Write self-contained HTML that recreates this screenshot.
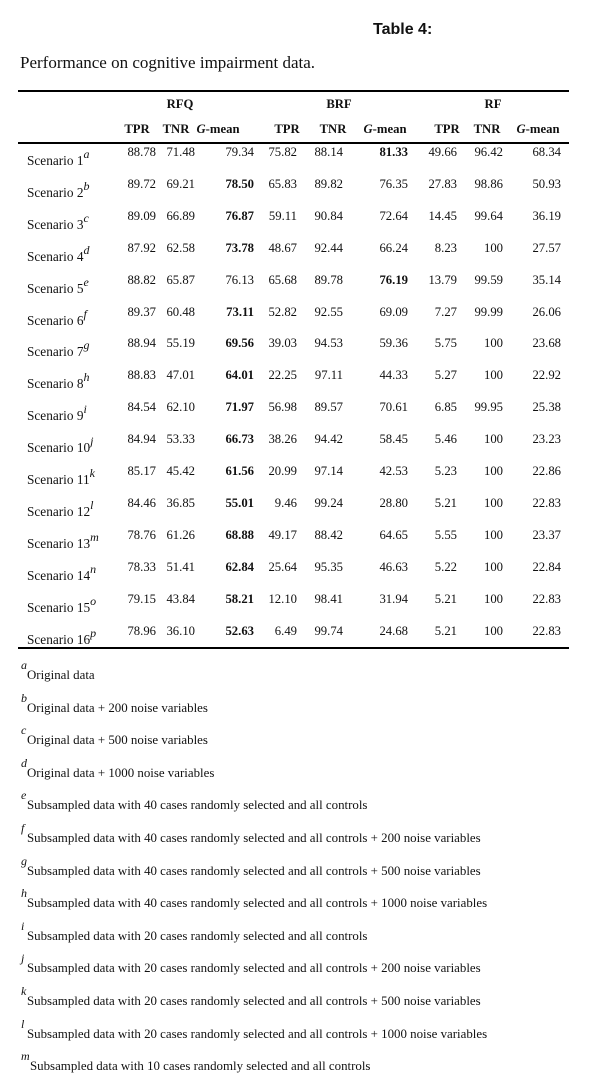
<!DOCTYPE html>
<html><head><meta charset="utf-8"><style>
body{margin:0;width:593px;height:1087px;background:#fff;position:relative;overflow:hidden;font-family:"Liberation Serif",serif;color:#111}
.a{position:absolute;white-space:nowrap;line-height:13px}
.n{font-size:12.7px;text-align:right;width:60px}
.h{font-size:12.7px;font-weight:bold;text-align:center;width:60px}
.line{position:absolute;left:18px;width:551px;background:#000}
.lab{font-size:13.3px}
.sup{font-style:italic;font-size:12px}
.fn{font-size:12.9px}
</style></head><body>
<div class="a" style="left:373px;top:21px;font:bold 16px 'Liberation Sans',sans-serif;line-height:18px">Table 4:</div>
<div class="a" style="left:20px;top:53px;font-size:17px;line-height:20px">Performance on cognitive impairment data.</div>
<div class="line" style="top:90px;height:2px"></div>
<div class="line" style="top:142px;height:2px"></div>
<div class="line" style="top:647px;height:2px"></div>
<div id="t"></div>
<script>
const groups=["RFQ","BRF","RF"];
const subs=["TPR","TNR","G-mean"];
const sups="abcdefghijklmnop".split("");
const tpr1=["88.78","89.72","89.09","87.92","88.82","89.37","88.94","88.83","84.54","84.94","85.17","84.46","78.76","78.33","79.15","78.96"];
const tnr1=["71.48","69.21","66.89","62.58","65.87","60.48","55.19","47.01","62.10","53.33","45.42","36.85","61.26","51.41","43.84","36.10"];
const gm1=["79.34","78.50","76.87","73.78","76.13","73.11","69.56","64.01","71.97","66.73","61.56","55.01","68.88","62.84","58.21","52.63"];
const tpr2=["75.82","65.83","59.11","48.67","65.68","52.82","39.03","22.25","56.98","38.26","20.99","9.46","49.17","25.64","12.10","6.49"];
const tnr2=["88.14","89.82","90.84","92.44","89.78","92.55","94.53","97.11","89.57","94.42","97.14","99.24","88.42","95.35","98.41","99.74"];
const gm2=["81.33","76.35","72.64","66.24","76.19","69.09","59.36","44.33","70.61","58.45","42.53","28.80","64.65","46.63","31.94","24.68"];
const tpr3=["49.66","27.83","14.45","8.23","13.79","7.27","5.75","5.27","6.85","5.46","5.23","5.21","5.55","5.22","5.21","5.21"];
const tnr3=["96.42","98.86","99.64","100","99.59","99.99","100","100","99.95","100","100","100","100","100","100","100"];
const gm3=["68.34","50.93","36.19","27.57","35.14","26.06","23.68","22.92","25.38","23.23","22.86","22.83","23.37","22.84","22.83","22.83"];
const boldRow=[1,0,0,0,1,0,0,0,0,0,0,0,0,0,0,0];
const notes=["Original data","Original data + 200 noise variables","Original data + 500 noise variables","Original data + 1000 noise variables","Subsampled data with 40 cases randomly selected and all controls","Subsampled data with 40 cases randomly selected and all controls + 200 noise variables","Subsampled data with 40 cases randomly selected and all controls + 500 noise variables","Subsampled data with 40 cases randomly selected and all controls + 1000 noise variables","Subsampled data with 20 cases randomly selected and all controls","Subsampled data with 20 cases randomly selected and all controls + 200 noise variables","Subsampled data with 20 cases randomly selected and all controls + 500 noise variables","Subsampled data with 20 cases randomly selected and all controls + 1000 noise variables","Subsampled data with 10 cases randomly selected and all controls"];
const T=document.getElementById('t');
function mk(cls,txt,l,t,st){const d=document.createElement('div');d.className='a '+cls;d.textContent=txt;d.style.left=l+'px';d.style.top=t+'px';if(st)d.style.cssText+=st;T.appendChild(d);return d;}
const gC=[180,339,493];
const hC=[[137,176,218],[287,333,385],[447,487,538]];
const rE=[[156,195,254],[297,343,408],[457,503,561]];
groups.forEach((g,i)=>{const d=mk('h',g,gC[i]-30,98);


subs.forEach((s,j)=>{const e=mk('h','',hC[i][j]-30,123);
if(s==="G-mean"){e.innerHTML='<i>G</i>-mean';}else e.textContent=s;

});});
const cols=[[tpr1,tnr1,gm1],[tpr2,tnr2,gm2],[tpr3,tnr3,gm3]];
for(let r=0;r<16;r++){const y=146+r*31.9;
const l=mk('lab','',27,y+8);l.innerHTML='Scenario '+(r+1)+'<span class="sup" style="position:relative;top:-7px">'+sups[r]+'</span>';


cols.forEach((c,i)=>c.forEach((arr,j)=>{const d=mk('n',arr[r],rE[i][j]-60,y);
if(j==2&&((i==0&&!boldRow[r])||(i==1&&boldRow[r])))d.style.fontWeight='bold';

}));}
notes.forEach((n,i)=>{const y=669+i*32.6;
const s=mk('sup',sups[i],21,y-10);


const f=mk('fn',n,i>=12?30:27,y);

});
</script>
</body></html>
